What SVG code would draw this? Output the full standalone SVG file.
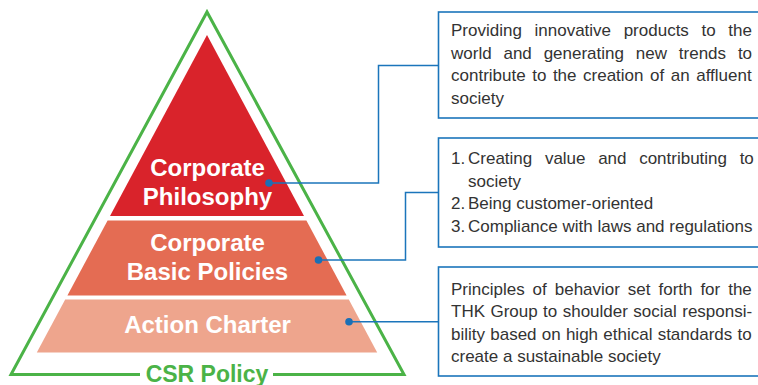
<svg xmlns="http://www.w3.org/2000/svg" width="758" height="385" viewBox="0 0 758 385">
  <style>
    .layer-text { font-family: "Liberation Sans", Arial, sans-serif; font-weight: bold; font-size: 24px; fill: #ffffff; text-anchor: middle; }
    .csr { font-family: "Liberation Sans", Arial, sans-serif; font-weight: bold; font-size: 23px; fill: #4bb347; text-anchor: middle; }
    .box { fill: #ffffff; stroke: #1b75bb; stroke-width: 1.6; }
    .btext { font-family: "Liberation Sans", Arial, sans-serif; font-size: 17px; fill: #333333; }
    .conn { fill: none; stroke: #1b75bb; stroke-width: 1.5; }
    .dot { fill: #1b6fb5; }
  </style>
  <rect width="758" height="385" fill="#ffffff"/>

  <g id="csr-policy">
    <path d="M140,374.5 L11,374.5 L207,12 L404,374.5 L273,374.5" fill="none" stroke="#4bb347" stroke-width="3" stroke-linejoin="miter"/>
    <text class="csr" x="207" y="381.5">CSR Policy</text>
  </g>

  <g id="corporate-philosophy">
    <polygon points="207,35 304,216 110,216" fill="#d9232b"/>
    <text class="layer-text" x="207.5" y="176">Corporate</text>
    <text class="layer-text" x="207.5" y="205">Philosophy</text>
  </g>

  <g id="corporate-basic-policies">
    <polygon points="107.6,220.5 306.4,220.5 346.6,295.5 67.4,295.5" fill="#e46c53"/>
    <text class="layer-text" x="207.5" y="251">Corporate</text>
    <text class="layer-text" x="207.5" y="280">Basic Policies</text>
  </g>

  <g id="action-charter">
    <polygon points="65.2,299.5 348.8,299.5 377.2,352.5 36.8,352.5" fill="#eea58d"/>
    <text class="layer-text" x="207.5" y="333">Action Charter</text>
  </g>

  <g id="connectors">
    <polyline class="conn" points="269,183 378.5,183 378.5,65.5 438,65.5"/>
    <polyline class="conn" points="318.5,260 405.5,260 405.5,192.5 438,192.5"/>
    <polyline class="conn" points="349,321.7 438,321.7"/>
    <circle class="dot" cx="269" cy="183" r="3.8"/>
    <circle class="dot" cx="318.5" cy="260" r="3.8"/>
    <circle class="dot" cx="349" cy="321.7" r="3.8"/>
  </g>

  <g id="box-philosophy">
    <rect class="box" x="438.5" y="12" width="330" height="106"/>
    <text class="btext" x="451" y="36" style="word-spacing:7.9px">Providing innovative products to the</text>
    <text class="btext" x="451" y="58.5" style="word-spacing:7.1px">world and generating new trends to</text>
    <text class="btext" x="451" y="81" style="word-spacing:1.8px">contribute to the creation of an affluent</text>
    <text class="btext" x="451" y="103.5">society</text>
  </g>

  <g id="box-basic-policies">
    <rect class="box" x="438.5" y="138" width="330" height="109"/>
    <text class="btext" x="451" y="164">1.</text>
    <text class="btext" x="468" y="164" style="word-spacing:7.9px">Creating value and contributing to</text>
    <text class="btext" x="468" y="186.5">society</text>
    <text class="btext" x="451" y="209">2.</text>
    <text class="btext" x="468" y="209">Being customer-oriented</text>
    <text class="btext" x="451" y="231.5">3.</text>
    <text class="btext" x="468" y="231.5">Compliance with laws and regulations</text>
  </g>

  <g id="box-action-charter">
    <rect class="box" x="438.5" y="267" width="330" height="109"/>
    <text class="btext" x="451" y="294.5" style="word-spacing:3.2px">Principles of behavior set forth for the</text>
    <text class="btext" x="451" y="317" style="word-spacing:0.7px">THK Group to shoulder social responsi-</text>
    <text class="btext" x="451" y="339.5" style="word-spacing:0.5px">bility based on high ethical standards to</text>
    <text class="btext" x="451" y="362">create a sustainable society</text>
  </g>
</svg>
